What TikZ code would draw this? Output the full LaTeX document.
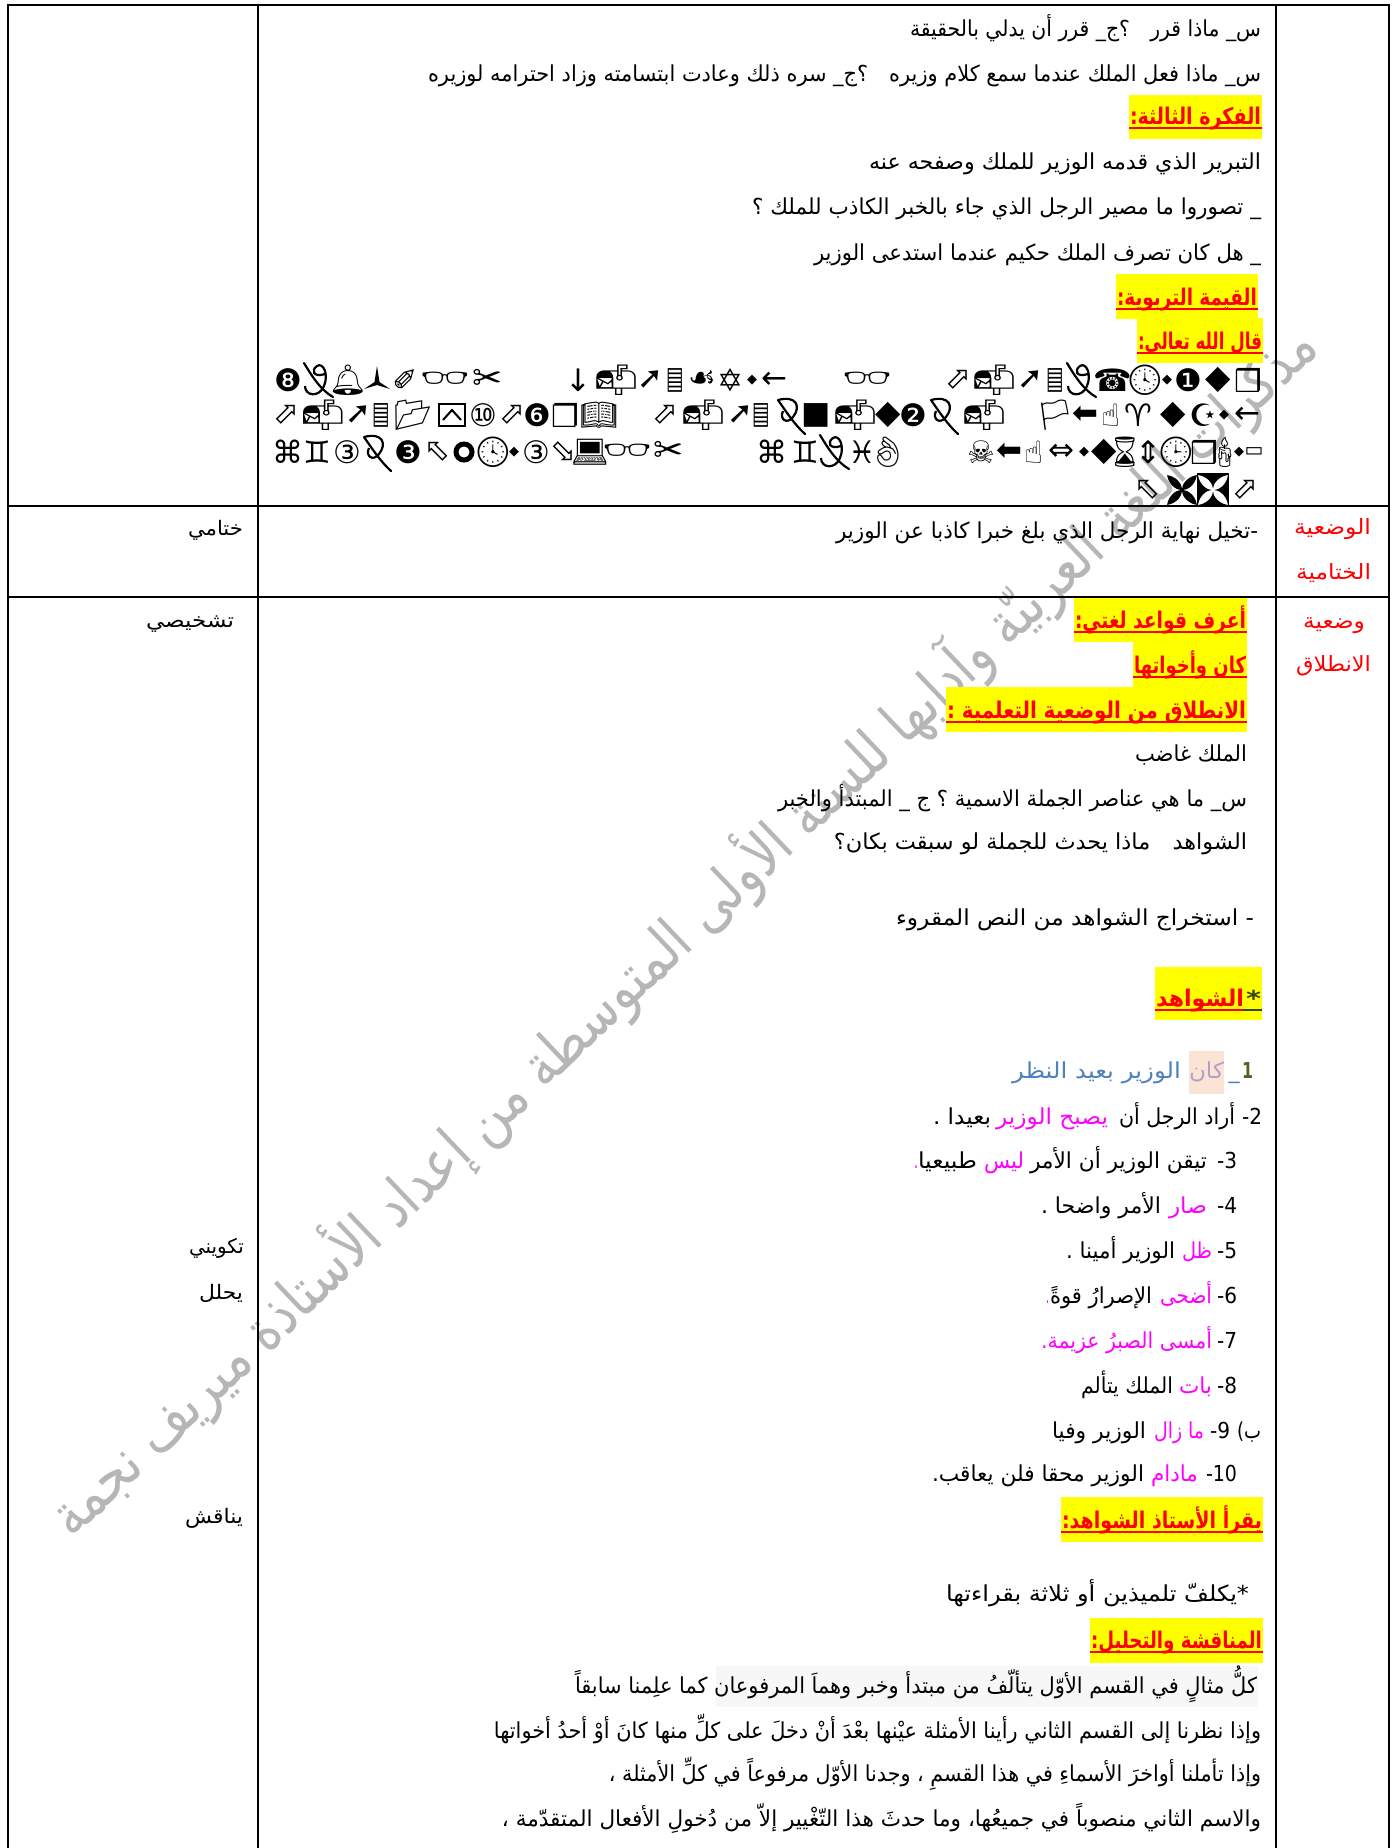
\documentclass[tikz,border=0pt]{standalone}
\usepackage{fontspec}
\usepackage{graphicx}
\TeXXeTstate=1
\newfontfamily\arfont[Script=Arabic]{DejaVu Sans}
\newfontfamily\dvfont{DejaVu Sans}
\newfontfamily\emfont{Noto Emoji}
\definecolor{tblue}{HTML}{4F81BD}
\definecolor{tlilac}{HTML}{B2A1C7}
\definecolor{tpeach}{HTML}{FBE4D5}
\definecolor{tolive}{HTML}{4F6228}
\definecolor{mag}{HTML}{FF00FF}
\definecolor{wm}{HTML}{B6B6B6}
\definecolor{yel}{HTML}{FFFF00}
\newcounter{tn}
% line of text: [colour] right x, left x, baseline y, text
\newcommand\tx[5][black]{\stepcounter{tn}\pgfmathsetlengthmacro\wdt{#2-(#3)}%
 \node[txt,text=#1] (t\arabic{tn}) at ({(#2+#3)/2},#4) {\resizebox{\wdt}{\height}{#5}};}
\newcommand\lab[6][black]{\stepcounter{tn}\pgfmathsetlengthmacro\wdt{#2-(#3)}%
 \node[anchor=base,inner sep=0pt,text=#1,font=\arfont\fontsize{#5}{#5}\selectfont] (t\arabic{tn}) at ({(#2+#3)/2},#4) {\resizebox{\wdt}{\height}{#6}};}
\newcommand\hdr[6]{\stepcounter{tn}\pgfmathsetlengthmacro\wdt{#2-(#1)-2}%
 \fill[yel] (#1,#3) rectangle (#2,#4);
 \draw[red,line width=1.6pt] (#1,#5) -- (#2,#5);
 \node[anchor=base,inner sep=0pt,font=\arfont\bfseries\fontsize{23}{23}\selectfont,text=red] (t\arabic{tn}) at ({(#1+#2)/2},#5-4) {\resizebox{\wdt}{\height}{#6}};}
\newcommand\sm{{\fontsize{13}{13}\selectfont ◆}}
\newcommand\bg{{\fontsize{33}{33}\selectfont ◆}}
\newcommand\pg{\scalebox{.6}[1.0]{▤}}
\newcommand\hg[1]{{\fontsize{36}{36}\selectfont #1}}
\newcommand\lw[1]{{\fontsize{20}{20}\selectfont #1}}
\newcommand\wid[1]{\scalebox{1.3}[1.0]{#1}}
\newcommand\symrow[3]{%
 \foreach \px/\g in {#2} {\node[sym,font=\dvfont\fontsize{31}{31}\selectfont] (d\px r#1) at (\px,#1) {\g};}
 \foreach \px/\g in {#3} {\node[sym,font=\emfont\fontsize{30}{30}\selectfont] (e\px r#1) at (\px,#1) {\g};}}
\newcommand\loopsym[2]{\begin{scope}[shift={(#1,#2)}]\draw[line width=2.2pt,line cap=round] (-13,-17) .. controls (-4,-2) and (4,10) .. (16,17);
 \draw[line width=2.2pt] (-12,6) .. controls (-12,16) and (2,18) .. (7,6) .. controls (12,-6) and (6,-18) .. (0,-14) .. controls (-6,-10) and (-4,-2) .. (8,-6);\end{scope}}
\newcommand\crosssym[2]{\begin{scope}[shift={(#1,#2)}]\draw[line width=2.2pt,line cap=round] (-13,-15) .. controls (-4,-2) and (4,10) .. (14,19);
 \draw[line width=2.2pt] (-13,-15) .. controls (6,-20) and (10,-8) .. (2,2) .. controls (-4,10) and (-12,4) .. (-8,-4);\end{scope}}
\newcommand\starsym[2]{\fill[shift={(#1,#2)}] (0,-14) -- (2.5,2) -- (13,9) -- (0,5) -- (-13,9) -- (-2.5,2) -- cycle;}
\newcommand\boxcaret[2]{\begin{scope}[shift={(#1,#2)}]\draw[line width=2.2pt] (-13,-11) rectangle (13,11);\draw[line width=2pt] (-9,5) -- (0,-5) -- (9,5);\end{scope}}
\newcommand\ringsym[2]{\draw[line width=5pt] (#1,#2) circle (8);}
\newcommand\leafsym[3]{\begin{scope}[shift={(#1,#2)}]\foreach \ang in {45,135,225,315}{\fill[#3,rotate=\ang] (0,0) .. controls (6,-6) and (16,-4) .. (21,0) .. controls (16,4) and (6,6) .. (0,0);}\end{scope}}
\tikzset{txt/.style={anchor=base,inner sep=0pt,font=\arfont\fontsize{22}{22}\selectfont},
 sym/.style={inner sep=0pt},
 grid/.style={line width=2pt,black}}
\begin{document}
\begin{tikzpicture}[x=1pt,y=-1pt]
\useasboundingbox (0,0) rectangle (1399,1848);
\fill[white] (0,0) rectangle (1399,1848);
% watermark
\node[rotate=43.6,inner sep=0pt,text=wm,font=\arfont\fontsize{60}{60}\selectfont] (wmark) at (682,930) {\resizebox{1724pt}{\height}{\beginR مذكرات اللغة العربيّة وآدابها للسنة الأولى المتوسطة من إعداد الأستاذة ميريف نجمة\endR}};
% table
\draw[grid] (8,5) -- (1389,5);
\draw[grid] (8,506) -- (1389,506);
\draw[grid] (8,597) -- (1389,597);
\foreach \vx in {8,258,1276,1389} {\draw[grid] (\vx,4) -- (\vx,1848);}
% top block
\tx{1261}{910}{36}{\beginR س\_ ماذا قرر\quad ؟ج\_ قرر أن يدلي بالحقيقة\endR}
\tx{1261}{428}{81}{\beginR س\_ ماذا فعل الملك عندما سمع كلام وزيره\quad ؟ج\_ سره ذلك وعادت ابتسامته وزاد احترامه لوزيره\endR}
\hdr{1129}{1262}{95}{139}{128}{\beginR الفكرة الثالثة:\endR}
\tx{1261}{869}{169}{\beginR التبرير الذي قدمه الوزير للملك وصفحه عنه\endR}
\tx{1261}{752}{214}{\beginR \_ تصوروا ما مصير الرجل الذي جاء بالخبر الكاذب للملك ؟\endR}
\tx{1261}{814}{260}{\beginR \_ هل كان تصرف الملك حكيم عندما استدعى الوزير\endR}
\hdr{1116}{1258}{274}{319}{309}{\beginR القيمة التربوية:\endR}
\hdr{1137}{1263}{318}{363}{353}{\beginR قال الله تعالى:\endR}
% symbols
\symrow{380}{288/❽,408/\rotatebox{45}{✏},488/\hg{✂},578/↓,650/➚,675/\pg,702/☙,730/✡,752/\sm,774/←,958/⬀,1030/➚,1055/\pg,1113/☎,1167/\sm,1188/❶,1218/\bg,1248/❒}{348/🔔,445/\wid{👓},616/\wid{📬},867/\wid{👓},994/\wid{📬},1145/🕓}
\loopsym{317}{380}\loopsym{1080}{380}\starsym{377}{380}
\symrow{415}{286/⬀,358/➚,381/\pg,483/⑩,512/⬀,537/❻,565/❐,665/⬀,740/➚,761/\pg,816/■,888/\bg,913/❷,1085/⬅,1111/☝,1138/♈,1173/\bg,1203/☪,1224/\sm,1247/←}{323/\wid{📬},703/\wid{📬},855/\wid{📬},984/\wid{📬},413/📂,599/📖,1055/🏳}
\boxcaret{452}{415}\crosssym{791}{415}\crosssym{944}{415}
\symrow{452}{288/⌘,317/♊,347/③,408/❸,437/⬁,514/\sm,536/③,563/⬂,669/\hg{✂},772/⌘,805/♊,862/♓,981/☠,1009/⬅,1034/☝,1061/⇔,1084/\sm,1104/\bg,1148/⇕,1204/❒,1239/\sm,1254/\lw{▭}}{493/🕓,590/💻,627/\wid{👓},888/👌,1125/⌛,1176/🕒,1225/🕯}
\crosssym{377}{452}\ringsym{464}{452}\loopsym{833}{452}
\symrow{490}{1147/⬁,1245/⬀}{}
\leafsym{1182}{490}{black}
\fill[black] (1197,473) rectangle (1229,507);
\leafsym{1213}{490}{white}
% row 2
\tx{1258}{836}{538}{\beginR -تخيل نهاية الرجل الذي بلغ خبرا كاذبا عن الوزير\endR}
\lab[red]{1371}{1294}{534}{21}{\beginR الوضعية\endR}
\lab[red]{1371}{1296}{579}{21}{\beginR الختامية\endR}
\lab{243}{188}{535}{20}{\beginR ختامي\endR}
% row 3
\hdr{1074}{1247}{598}{642}{632}{\beginR أعرف قواعد لغتي:\endR}
\hdr{1133}{1247}{642}{687}{677}{\beginR كان وأخواتها\endR}
\hdr{946}{1247}{687}{732}{722}{\beginR الانطلاق  من الوضعية التعلمية :\endR}
\lab[red]{1365}{1303}{628}{21}{\beginR وضعية\endR}
\lab[red]{1371}{1296}{671}{21}{\beginR الانطلاق\endR}
\lab{234}{146}{627}{20}{\beginR تشخيصي\endR}
\tx{1247}{1135}{761}{\beginR الملك غاضب\endR}
\tx{1247}{778}{806}{\beginR س\_ ما هي عناصر الجملة الاسمية ؟ ج \_ المبتدأ والخبر\endR}
\tx{1247}{834}{849}{\beginR الشواهد\quad ماذا يحدث للجملة لو سبقت بكان؟\endR}
\tx{1254}{896}{925}{\beginR - استخراج الشواهد من النص المقروء\endR}
\hdr{1155}{1245}{967}{1020}{1010}{\beginR الشواهد\endR}
\fill[yel] (1245,967) rectangle (1262,1020);
\draw[tolive!70!black,line width=1.6pt] (1243,1010) -- (1262,1010);
\tx[tolive!70!black]{1261}{1246}{1006}{\bfseries *}
% examples
\fill[tpeach] (1189,1051) rectangle (1224,1094);
\tx[tolive]{1253}{1242}{1078}{\bfseries 1}
\node[txt,text=tblue] (tuscore) at (1234,1078) {\char"5F};
\tx[tlilac]{1224}{1189}{1078}{\beginR كان\endR}
\tx[tblue]{1181}{1012}{1078}{\beginR الوزير بعيد النظر\endR}
\tx{1262}{1242}{1124}{\beginR 2-\endR}
\tx{1235}{1119}{1124}{\beginR أراد الرجل أن\endR}
\tx[mag]{1108}{996}{1124}{\beginR يصبح الوزير\endR}
\tx{991}{933}{1124}{\beginR بعيدا .\endR}
\tx{1237}{1217}{1168}{\beginR 3-\endR}
\tx{1207}{1030}{1168}{\beginR تيقن الوزير أن الأمر\endR}
\tx[mag]{1024}{984}{1168}{\beginR ليس\endR}
\tx{977}{918}{1168}{\beginR طبيعيا\endR}
\tx[mag]{918}{914}{1168}{.}
\tx{1237}{1217}{1213}{\beginR 4-\endR}
\tx[mag]{1207}{1169}{1213}{\beginR صار\endR}
\tx{1161}{1041}{1213}{\beginR الأمر واضحا .\endR}
\tx{1237}{1217}{1258}{\beginR 5-\endR}
\tx[mag]{1212}{1182}{1258}{\beginR ظل\endR}
\tx{1175}{1066}{1258}{\beginR الوزير أمينا .\endR}
\tx{1237}{1217}{1303}{\beginR 6-\endR}
\tx[mag]{1212}{1160}{1303}{\beginR أضحى\endR}
\tx{1152}{1050}{1303}{\beginR الإصرارُ قوةً\endR}
\tx[mag]{1049}{1046}{1303}{.}
\tx{1237}{1217}{1348}{\beginR 7-\endR}
\tx[mag]{1212}{1041}{1348}{\beginR أمسى الصبرُ عزيمة.\endR}
\tx{1237}{1217}{1393}{\beginR 8-\endR}
\tx[mag]{1212}{1179}{1393}{\beginR بات\endR}
\tx{1173}{1081}{1393}{\beginR الملك يتألم\endR}
\tx{1261}{1237}{1438}{\beginR ب)\endR}
\tx{1230}{1210}{1438}{\beginR 9-\endR}
\tx[mag]{1204}{1154}{1438}{\beginR ما زال\endR}
\tx{1146}{1052}{1438}{\beginR الوزير وفيا\endR}
\tx{1237}{1206}{1481}{\beginR \beginL 10\endL-\endR}
\tx[mag]{1198}{1151}{1481}{\beginR مادام\endR}
\tx{1144}{932}{1481}{\beginR الوزير محقا فلن يعاقب.\endR}
\hdr{1061}{1263}{1497}{1542}{1532}{\beginR يقرأ الأستاذ الشواهد:\endR}
\tx{1249}{946}{1601}{\beginR *يكلفّ تلميذين أو ثلاثة بقراءتها\endR}
\hdr{1090}{1263}{1618}{1663}{1652}{\beginR المناقشة والتحليل:\endR}
\fill[black!3] (716,1666) rectangle (1258,1707);
\tx{1257}{575}{1693}{\beginR كلُّ مثالٍ في القسم الأوّل يتألّفُ من مبتدأ وخبر وهماَ المرفوعان كما علِمنا سابقاً\endR}
\tx{1261}{494}{1738}{\beginR وإذا نظرنا إلى القسم الثاني رأينا الأمثلة عيْنها بعْدَ أنْ دخلَ على كلِّ منها كانَ أوْ أحدُ أخواتها\endR}
\tx{1261}{609}{1781}{\beginR وإذا تأملنا أواخرَ الأسماءِ في هذا القسمِ ، وجدنا الأوّل مرفوعاً في كلِّ الأمثلة ،\endR}
\tx{1261}{502}{1826}{\beginR والاسم الثاني منصوباً في جميعُها، وما حدثَ هذا التّغْيير إلاّ من دُخولِ الأفعال المتقدّمة ،\endR}
\lab{244}{189}{1253}{20}{\beginR تكويني\endR}
\lab{243}{199}{1299}{20}{\beginR يحلل\endR}
\lab{243}{185}{1523}{20}{\beginR يناقش\endR}
\end{tikzpicture}
\end{document}
